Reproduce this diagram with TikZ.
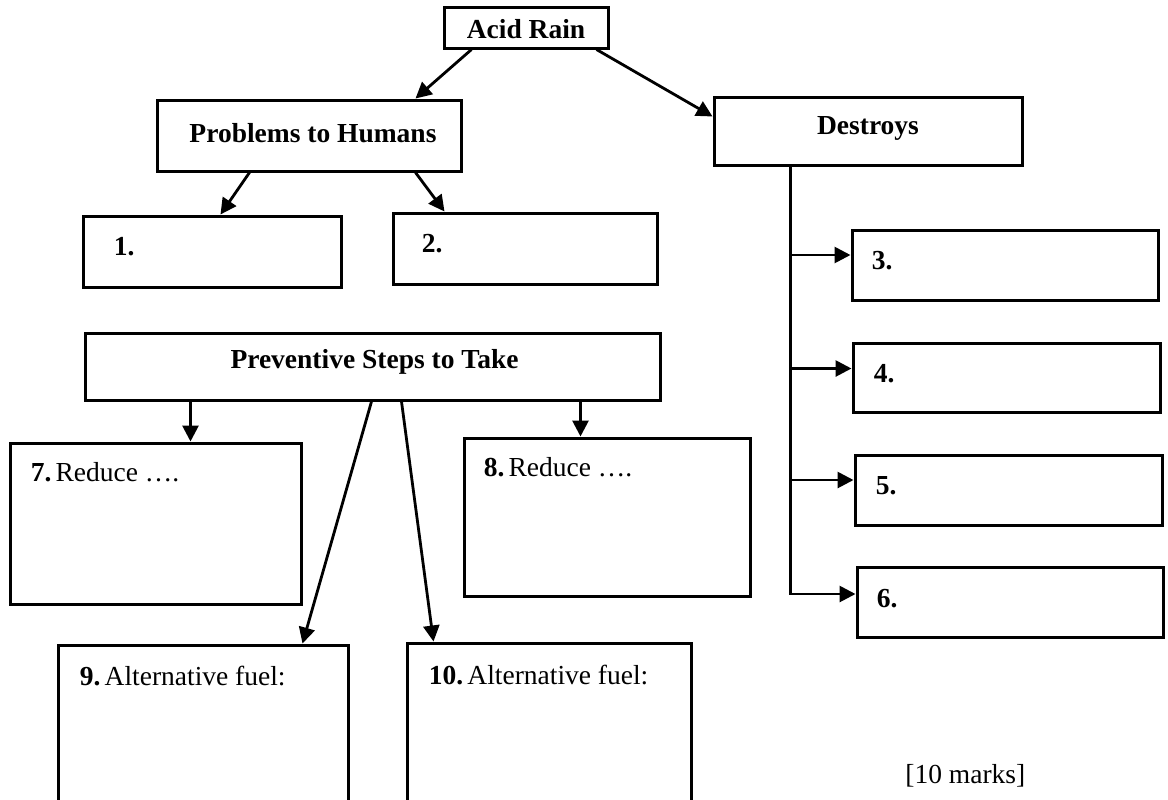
\documentclass[tikz,border=0pt]{standalone}
\usepackage{fontspec}
\setmainfont{Liberation Serif}
\usetikzlibrary{arrows.meta,calc,fit}
\newcommand{\fsz}{\fontsize{13.75}{16}\selectfont}
\begin{document}
\begin{tikzpicture}[x=0.5pt,y=-0.5pt,
  boxst/.style={draw, line width=1.5pt, inner sep=0pt},
  titlest/.style={inner sep=0pt, font=\fsz\bfseries},
  lbl/.style={anchor=base west, inner sep=0pt, font=\fsz},
  arr/.style={line width=1.4pt, -{Triangle[length=8pt,width=8pt]}},
  ln/.style={line width=1.5pt}]
\path[use as bounding box, fill=white] (0,0) rectangle (1168,799);
% title boxes
\node[boxst, fit={(444,7) (608,48)}] (acid) {};
\node[boxst, fit={(157,100) (461,171)}] (prob) {};
\node[boxst, fit={(714,97) (1022,165)}] (dest) {};
\node[boxst, fit={(85,333) (660,400)}] (prev) {};
\node[titlest] (acidT) at ($(acid.center)+(0,2)$) {Acid Rain};
\node[titlest] (probT) at ($(prob.center)+(4,-2)$) {Problems to Humans};
\node[titlest] (destT) at ($(dest.center)+(0,-3)$) {Destroys};
\node[titlest] (prevT) at ($(prev.center)+(2,-5)$) {Preventive Steps to Take};
% answer boxes
\node[boxst, fit={(83,216) (341,287)}] (b1) {};
\node[boxst, fit={(393,213) (657,284)}] (b2) {};
\node[boxst, fit={(852,230) (1158,300)}] (b3) {};
\node[boxst, fit={(853,343) (1160,412)}] (b4) {};
\node[boxst, fit={(855,455) (1162,525)}] (b5) {};
\node[boxst, fit={(857,567) (1163,637)}] (b6) {};
\node[boxst, fit={(10,443) (301,604)}] (b7) {};
\node[boxst, fit={(464,438) (750,596)}] (b8) {};
\node[boxst, fit={(58,645) (348,830)}] (b9) {};
\node[boxst, fit={(407,643) (691,830)}] (b10) {};
% labels
\node[lbl] (t1) at ($(b1.north west)+(32,41)$) {\textbf{1.}};
\node[lbl] (t2) at ($(b2.north west)+(30,41)$) {\textbf{2.}};
\node[lbl] (t3) at ($(b3.north west)+(21,41)$) {\textbf{3.}};
\node[lbl] (t4) at ($(b4.north west)+(22,41)$) {\textbf{4.}};
\node[lbl] (t5) at ($(b5.north west)+(22,41)$) {\textbf{5.}};
\node[lbl] (t6) at ($(b6.north west)+(21,42)$) {\textbf{6.}};
\node[lbl] (t7) at ($(b7.north west)+(22,40)$) {\textbf{7.}\hspace{0.15em}Reduce ….};
\node[lbl] (t8) at ($(b8.north west)+(21,40)$) {\textbf{8.}\hspace{0.15em}Reduce ….};
\node[lbl] (t9) at ($(b9.north west)+(23,42)$) {\textbf{9.}\hspace{0.15em}Alternative fuel:};
\node[lbl] (t10) at ($(b10.north west)+(23,43)$) {\textbf{10.}\hspace{0.15em}Alternative fuel:};
\node[lbl] (marks) at (905,783) {[10 marks]};
% connectors from Acid Rain
\draw[arr] ($(acid.south west)+(29,0)$) -- ($(prob.north west)+(260,0)$);
\draw[arr] ($(acid.south east)+(-13,0)$) -- ($(dest.north west)+(0,21)$);
% Problems to Humans
\draw[arr] ($(prob.south west)+(94,0)$) -- ($(b1.north west)+(139,0)$);
\draw[arr] ($(prob.south west)+(260,0)$) -- ($(b2.north west)+(53,0)$);
% Destroys trunk and branches
\coordinate (trk) at ($(dest.south west)+(78,0)$);
\coordinate (a3) at ($(b3.west)+(0,-10)$);
\coordinate (a4) at ($(b4.west)+(0,-9)$);
\coordinate (a5) at ($(b5.west)+(0,-10)$);
\coordinate (a6) at ($(b6.west)+(0,-8)$);
\draw[arr] (trk) |- (a6);
\draw[arr] (trk |- a3) -- (a3);
\draw[arr] (trk |- a4) -- (a4);
\draw[arr] (trk |- a5) -- (a5);
% Preventive steps
\coordinate (p7) at ($(prev.south west)+(107,0)$);
\coordinate (p8) at ($(prev.south west)+(497,0)$);
\draw[arr] (p7) -- (p7 |- b7.north);
\draw[arr] (p8) -- (p8 |- b8.north);
\draw[arr] ($(prev.south west)+(288,0)$) -- ($(b9.north west)+(246,0)$);
\draw[arr] ($(prev.south west)+(318,0)$) -- ($(b10.north west)+(28,0)$);
\end{tikzpicture}
\end{document}
